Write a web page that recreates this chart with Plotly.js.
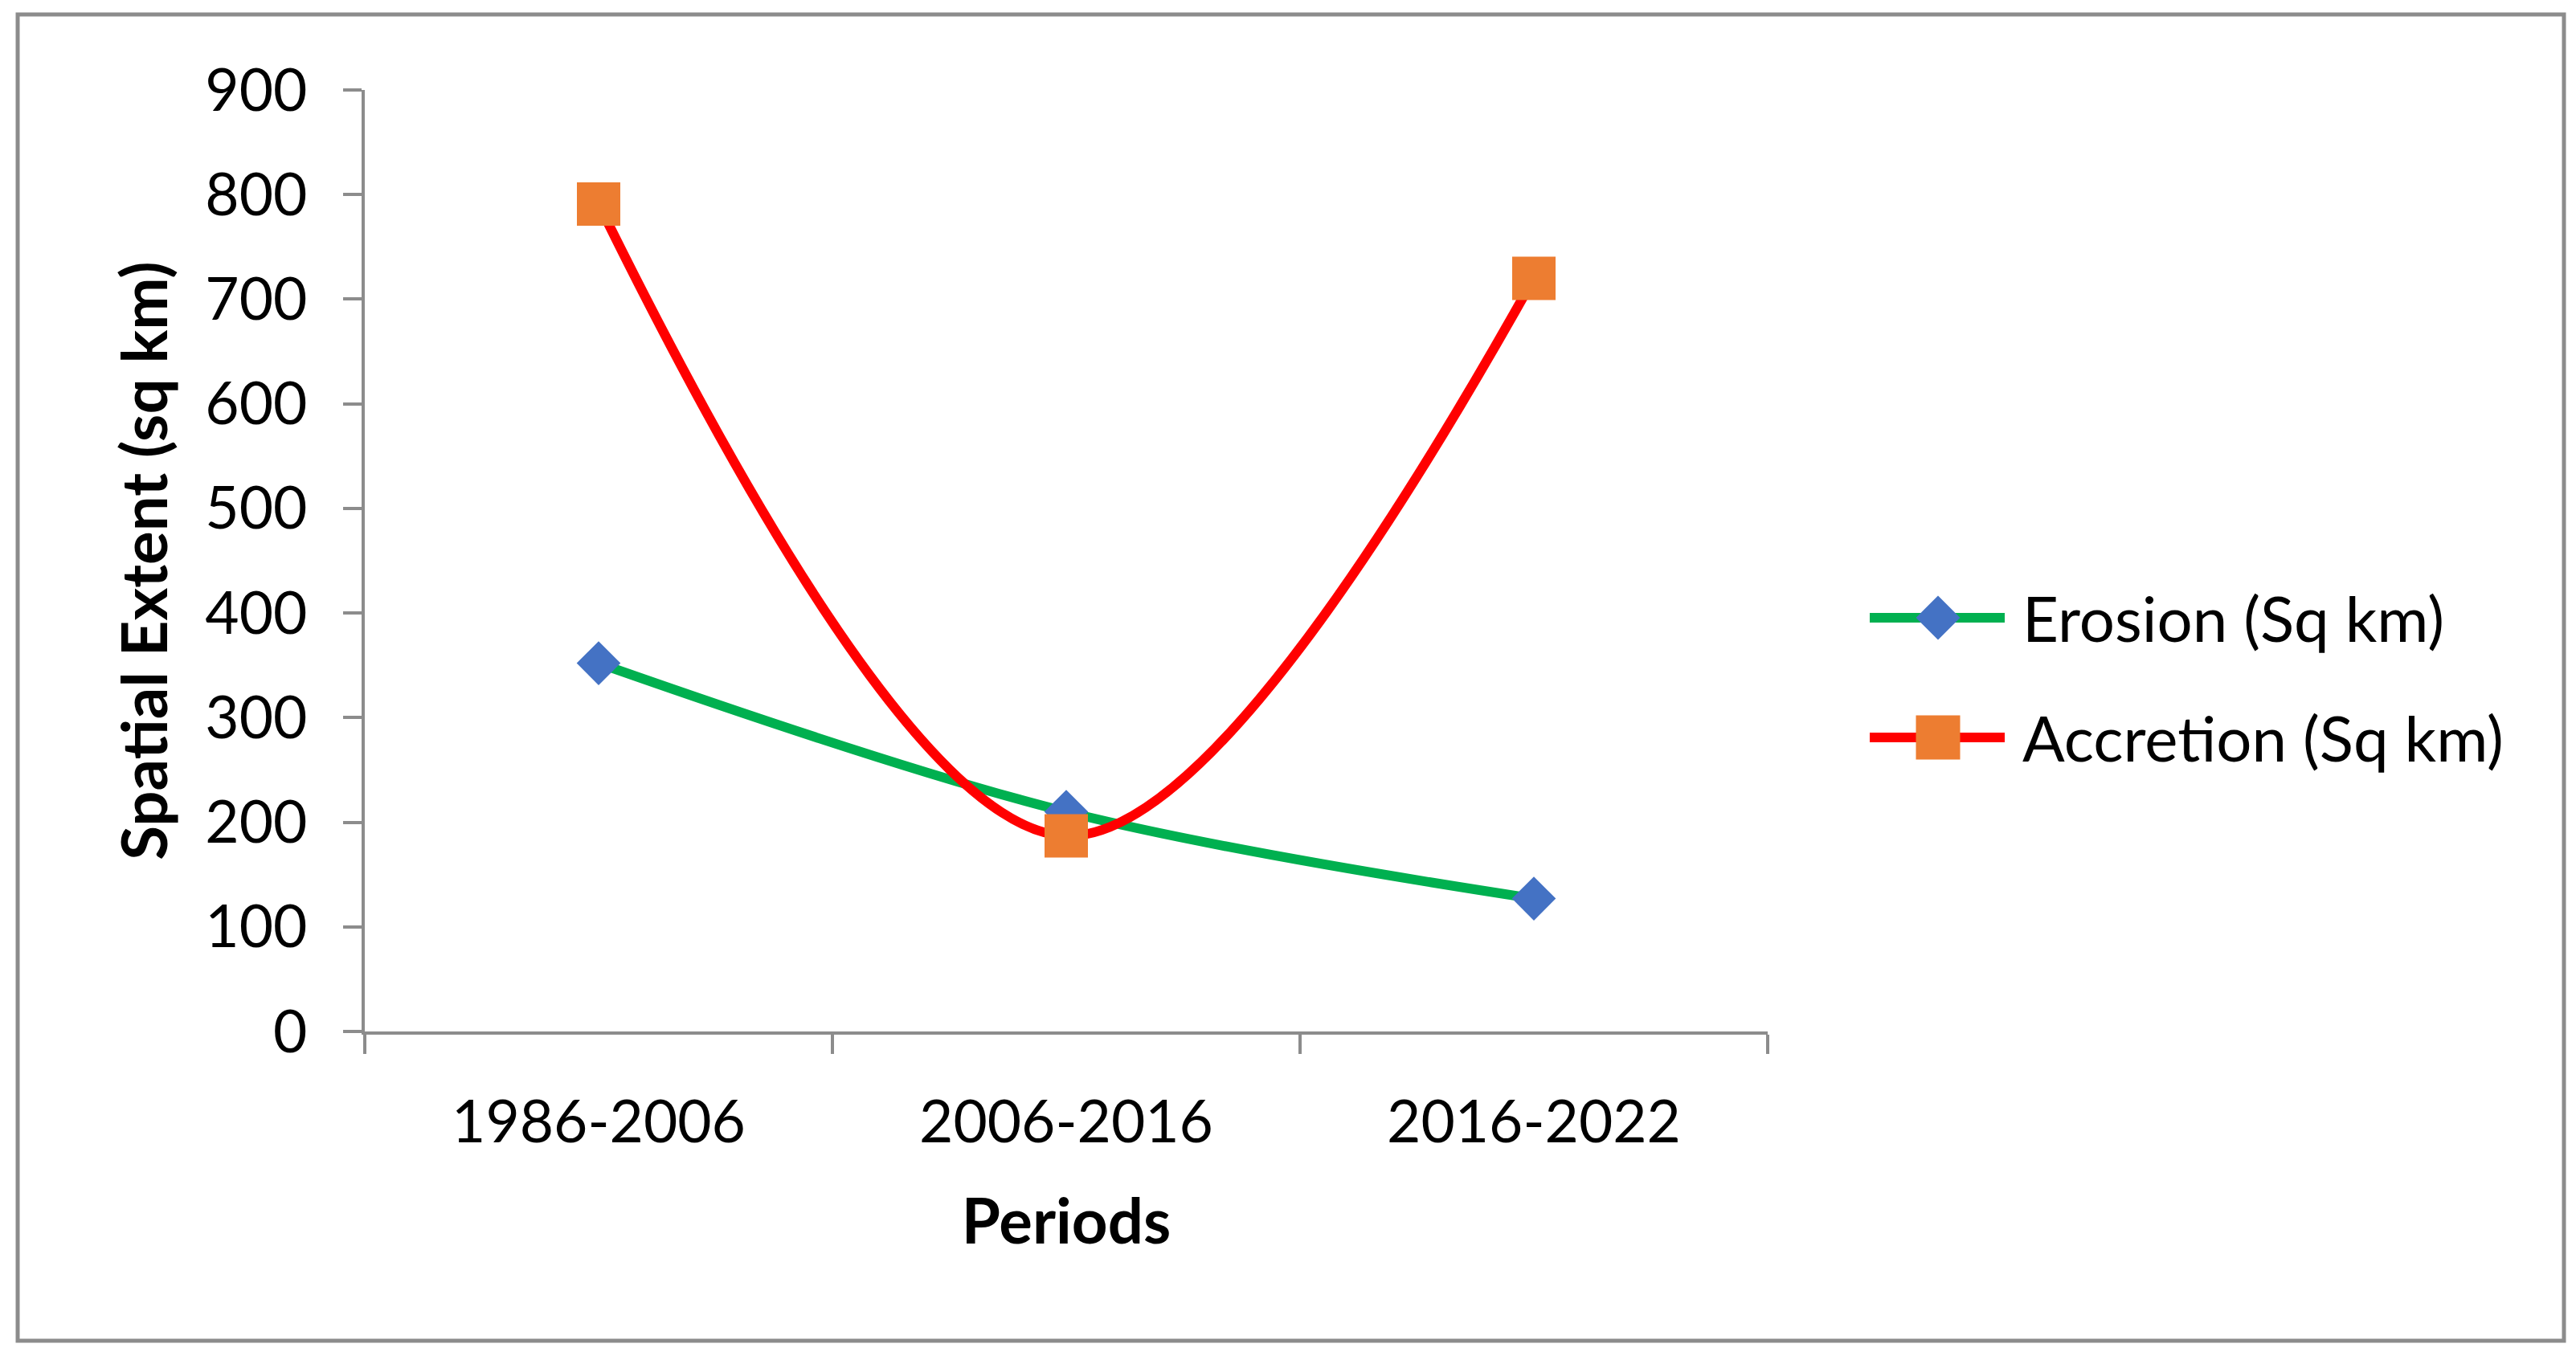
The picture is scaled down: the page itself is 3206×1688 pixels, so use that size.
<!DOCTYPE html>
<html>
<head>
<meta charset="utf-8">
<script src="https://cdn.plot.ly/plotly-3.0.1.min.js"></script>
<style>
  html, body { margin: 0; padding: 0; background: #ffffff; }
  #chart { width: 3206px; height: 1688px; }
</style>
</head>
<body>
<div id="chart"></div>
<script>
const periods = ["1986-2006", "2006-2016", "2016-2022"];
const erosion = [352, 210, 127];
const accretion = [791, 187, 720];
const yTickValues = [0, 100, 200, 300, 400, 500, 600, 700, 800, 900];
const seriesNames = ["Erosion (Sq km)", "Accretion (Sq km)"];
const lineColors = ["#00B050", "#FF0000"];
const markerColors = ["#4472C4", "#ED7D31"];

const FONT = "Lato, Calibri, Carlito, 'Open Sans', sans-serif";
const AXIS_GRAY = "#8C8C8C";

// figure geometry (pixels)
const W = 3206, H = 1688;
const M = { l: 454, r: 1006, t: 112, b: 404 };
const PW = W - M.l - M.r, PH = H - M.t - M.b;
const px2x = p => (p - M.l) / PW;
const px2y = p => (H - M.b - p) / PH;

const traces = [
  {
    type: "scatter",
    mode: "lines+markers",
    name: seriesNames[0],
    x: periods,
    y: erosion,
    line: { color: lineColors[0], width: 12, shape: "spline", smoothing: 1 },
    marker: { symbol: "diamond", size: 42, color: markerColors[0], line: { width: 0 } },
    showlegend: false
  },
  {
    type: "scatter",
    mode: "lines+markers",
    name: seriesNames[1],
    x: periods,
    y: accretion,
    line: { color: lineColors[1], width: 12, shape: "spline", smoothing: 1 },
    marker: { symbol: "square", size: 54, color: markerColors[1], line: { width: 0 } },
    showlegend: false
  }
];

// legend drawn as layout decoration (line sample, marker sample, label)
const legendRows = [769, 918];
const legLineX0 = 2327, legLineX1 = 2495, legMarkX = 2412, legHalf = 27.5, legTextX = 2515;
const shapes = [
  {
    type: "rect", xref: "paper", yref: "paper",
    x0: px2x(22), x1: px2x(3191), y0: px2y(18), y1: px2y(1669),
    line: { color: AXIS_GRAY, width: 5 },
    fillcolor: "rgba(0,0,0,0)",
    layer: "below"
  }
];
const annotations = [];
legendRows.forEach((ry, i) => {
  shapes.push({
    type: "line", xref: "paper", yref: "paper",
    x0: px2x(legLineX0), x1: px2x(legLineX1), y0: px2y(ry), y1: px2y(ry),
    line: { color: lineColors[i], width: 12 }
  });
  let path;
  if (i === 0) {
    const cx = px2x(legMarkX), cy = px2y(ry), dx = legHalf / PW, dy = legHalf / PH;
    path = `M ${cx - dx} ${cy} L ${cx} ${cy + dy} L ${cx + dx} ${cy} L ${cx} ${cy - dy} Z`;
  } else {
    const cx = px2x(legMarkX), cy = px2y(ry), dx = legHalf / PW, dy = legHalf / PH;
    path = `M ${cx - dx} ${cy - dy} L ${cx - dx} ${cy + dy} L ${cx + dx} ${cy + dy} L ${cx + dx} ${cy - dy} Z`;
  }
  shapes.push({
    type: "path", xref: "paper", yref: "paper", path: path,
    fillcolor: markerColors[i], line: { width: 0 }
  });
  annotations.push({
    xref: "paper", yref: "paper",
    x: px2x(legTextX), y: px2y(ry),
    xanchor: "left", yanchor: "middle",
    text: seriesNames[i], showarrow: false,
    font: { family: FONT, size: 78, color: "#000000" }
  });
});

const layout = {
  width: W,
  height: H,
  paper_bgcolor: "#ffffff",
  plot_bgcolor: "#ffffff",
  font: { family: FONT, size: 73, color: "#000000" },
  margin: { l: M.l, r: M.r, t: M.t, b: M.b, pad: 0 },
  showlegend: false,
  xaxis: {
    type: "category",
    range: [-0.5, 2.5],
    tickson: "boundaries",
    showgrid: false,
    zeroline: false,
    showline: true,
    linecolor: AXIS_GRAY,
    linewidth: 4,
    ticks: "outside",
    ticklen: 24,
    tickwidth: 4,
    tickcolor: AXIS_GRAY,
    ticklabelstandoff: 46,
    tickfont: { family: FONT, size: 73, color: "#000000" },
    title: { text: "Periods", font: { family: FONT, size: 78, color: "#000000", weight: "bold" }, standoff: 58 },
    automargin: false,
    fixedrange: true
  },
  yaxis: {
    range: [0, 900],
    tickmode: "array",
    tickvals: yTickValues,
    ticktext: yTickValues.map(String),
    showgrid: false,
    zeroline: false,
    showline: true,
    linecolor: AXIS_GRAY,
    linewidth: 4,
    ticks: "outside",
    ticklen: 23,
    tickwidth: 4,
    tickcolor: AXIS_GRAY,
    ticklabelstandoff: 30,
    tickfont: { family: FONT, size: 73, color: "#000000" },
    title: { text: "Spatial Extent (sq km)", font: { family: FONT, size: 78, color: "#000000", weight: "bold" }, standoff: 22 },
    automargin: false,
    fixedrange: true
  },
  shapes: shapes,
  annotations: annotations
};

Plotly.newPlot("chart", traces, layout, { displayModeBar: false, staticPlot: true });
</script>
</body>
</html>
